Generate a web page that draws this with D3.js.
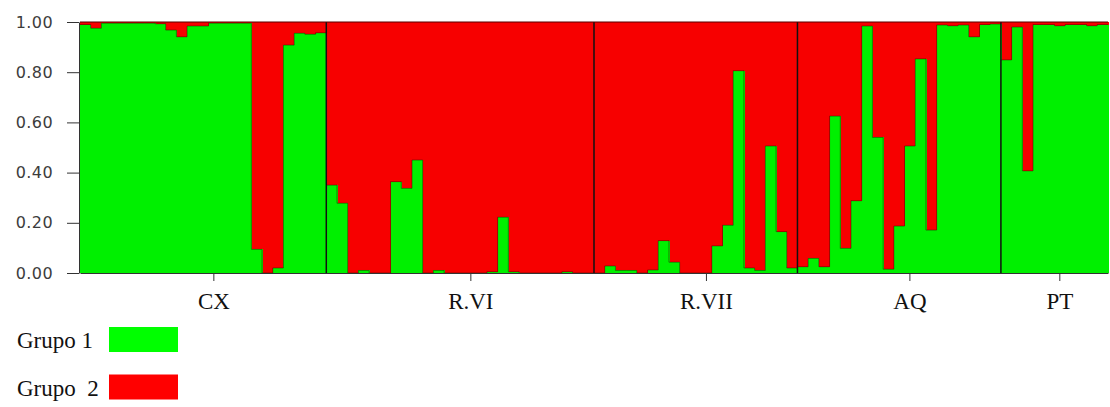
<!DOCTYPE html>
<html>
<head>
<meta charset="utf-8">
<script src="https://cdn.jsdelivr.net/npm/d3@7"></script>
<style>
  body { margin: 0; background: #fff; }
  svg { display: block; }
</style>
</head>
<body>
<script>
// group names + green (Grupo 1) share per individual
const groups = ["CX", "R.VI", "R.VII", "AQ", "PT"];
const cx = [0.99, 0.975, 0.995, 0.995, 0.995, 0.995, 0.995, 0.993, 0.968, 0.941, 0.984, 0.984,
  0.995, 0.995, 0.995, 0.995, 0.094, 0.0, 0.02, 0.908, 0.955, 0.951, 0.957];
const rvi = [0.35, 0.278, 0, 0.01, 0, 0, 0.364, 0.337, 0.45, 0, 0.01, 0, 0, 0, 0,
  0.005, 0.222, 0.005, 0, 0, 0, 0, 0.005, 0, 0];
const rvii = [0, 0.028, 0.01, 0.01, 0, 0.012, 0.129, 0.043, 0, 0, 0, 0.108, 0.19, 0.806,
  0.02, 0.01, 0.506, 0.165, 0.02];
const aq = [0.025, 0.058, 0.025, 0.625, 0.098, 0.288, 0.984, 0.54, 0.015, 0.187, 0.506,
  0.853, 0.171, 0.988, 0.985, 0.988, 0.941, 0.99, 0.992];
const pt = [0.849, 0.98, 0.407, 0.99, 0.99, 0.985, 0.99, 0.99, 0.985, 0.99];
const yTicks = [0, 0.2, 0.4, 0.6, 0.8, 1.0];
const legendLabels = ["Grupo 1", "Grupo  2"];
const colors = ["#00f000", "#f70000"];

const width = 1110;
const height = 407;
const margin = ({top: 22, right: 2, bottom: 134, left: 80});

// flatten into individuals
var data = [];
var groupInfo = [];
[cx, rvi, rvii, aq, pt].forEach((vals, g) => {
  groupInfo.push({name: groups[g], start: data.length, n: vals.length});
  vals.forEach(v => data.push({group: groups[g], g1: v, idx: data.length}));
});

const xScale = d3.scaleBand()
  .domain(data.map(d => d.idx))
  .range([margin.left, width - margin.right])
  .padding(0);
const yScale = d3.scaleLinear()
  .domain([0, 1])
  .range([height - margin.bottom, margin.top]);

const svg = d3.select("body").append("svg")
  .attr("width", width)
  .attr("height", height);

// red = Grupo 2 fills the full column, green on top from the bottom
svg.append("g")
  .attr("fill", colors[1])
  .attr("shape-rendering", "crispEdges")
  .selectAll("rect")
  .data(data)
  .join("rect")
    .attr("x", d => xScale(d.idx))
    .attr("y", yScale(1))
    .attr("width", xScale.bandwidth() + 0.6)
    .attr("height", yScale(0) - yScale(1));

svg.append("g")
  .attr("fill", colors[0])
  .attr("shape-rendering", "crispEdges")
  .selectAll("rect")
  .data(data)
  .join("rect")
    .attr("x", d => xScale(d.idx))
    .attr("y", d => yScale(d.g1))
    .attr("width", xScale.bandwidth() + 0.6)
    .attr("height", d => yScale(0) - yScale(d.g1));

// dark step edge where green meets red
const step = d3.line()
  .x(d => d[0])
  .y(d => d[1])
  .curve(d3.curveStepAfter);
groupInfo.forEach(gi => {
  const rows = data.slice(gi.start, gi.start + gi.n);
  const pts = rows.map(d => [xScale(d.idx), yScale(d.g1)]);
  pts.push([xScale(rows[rows.length - 1].idx) + xScale.bandwidth(), yScale(rows[rows.length - 1].g1)]);
  svg.append("path")
    .attr("d", step(pts))
    .attr("fill", "none")
    .attr("stroke", "#3a1500")
    .attr("stroke-opacity", 0.5)
    .attr("stroke-width", 1);
});

// group separators
svg.append("g")
  .selectAll("line")
  .data(groupInfo.slice(1))
  .join("line")
    .attr("x1", d => xScale(d.start))
    .attr("x2", d => xScale(d.start))
    .attr("y1", yScale(1))
    .attr("y2", yScale(0))
    .attr("stroke", "#111")
    .attr("stroke-width", 1.5);

// top border
svg.append("line")
  .attr("x1", margin.left)
  .attr("x2", width - margin.right)
  .attr("y1", yScale(1))
  .attr("y2", yScale(1))
  .attr("stroke", "#5a0000")
  .attr("stroke-width", 1.2);

// y axis
const yAxis = g => g
  .attr("transform", `translate(${margin.left - 1},0)`)
  .call(d3.axisLeft(yScale).tickValues(yTicks).tickFormat(d3.format(".2f"))
    .tickSize(12).tickSizeOuter(0).tickPadding(14))
  .call(g => g.selectAll("line, path").attr("stroke", "#333"))
  .call(g => g.selectAll("text")
    .attr("font-family", "DejaVu Sans, sans-serif")
    .attr("font-size", 16)
    .attr("letter-spacing", 0.4)
    .attr("fill", "#3c3c3c"));

// x axis: one tick per population, under its middle individual
const labelIdx = groupInfo.map(gi => gi.start + Math.ceil(gi.n / 2));
const xAxis = g => g
  .attr("transform", `translate(0,${yScale(0)})`)
  .call(d3.axisBottom(xScale).tickValues(labelIdx)
    .tickFormat((d, i) => groups[i]).tickSize(8).tickSizeOuter(0).tickPadding(12))
  .call(g => g.selectAll("line, path").attr("stroke", "#333"))
  .call(g => g.selectAll("text")
    .attr("font-family", "Liberation Serif, Times New Roman, serif")
    .attr("font-size", 23)
    .attr("fill", "#111"));

svg.append("g").call(xAxis);
svg.append("g").call(yAxis);

// legend
const legend = svg.append("g")
  .selectAll("g")
  .data(legendLabels)
  .join("g")
    .attr("transform", (d, i) => `translate(0,${i * 47.5})`);

legend.append("text")
  .attr("x", 17)
  .attr("y", 348)
  .attr("font-family", "Liberation Serif, Times New Roman, serif")
  .attr("font-size", 23)
  .attr("fill", "#111")
  .style("white-space", "pre")
  .text(d => d);

legend.append("rect")
  .attr("x", 109)
  .attr("y", 327)
  .attr("width", 69)
  .attr("height", 25)
  .attr("fill", (d, i) => i === 0 ? "#00ff00" : "#ff0000");
</script>
</body>
</html>
